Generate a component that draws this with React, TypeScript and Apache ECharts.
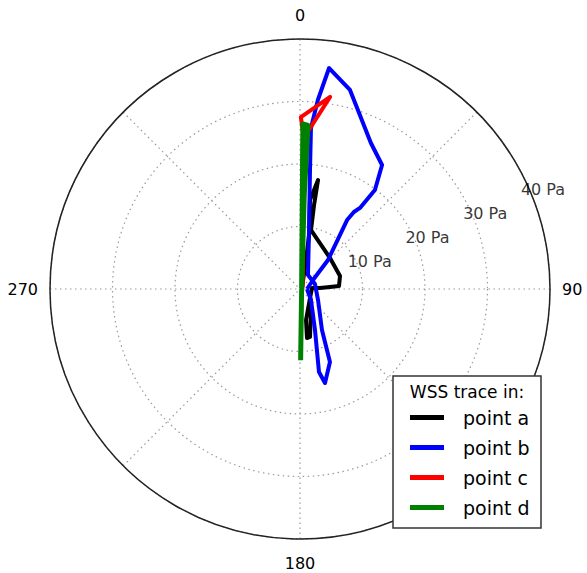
import React, { useEffect, useRef } from "react";
import * as echarts from "echarts";

// [radius (Pa), angle (deg, clockwise from top)]
const pointA: number[][] = [
  [0.3, 90], [4.74, 11.7], [8.76, 9.5], [14.33, 6.4], [17.68, 9.4], [13.6, 9.5], [9.6, 10.6],
  [6.9, 44.1], [6.73, 72], [6.26, 85.6], [4.81, 86.2], [3.2, 87.1], [1.93, 85.2],
  [2.15, 132], [5.05, 169], [7.92, 171.9], [7.84, 168.2], [3.79, 152.4], [1.67, 106.7],
];
const pointB: number[][] = [
  [1.12, 90], [2.53, 55.3], [6.45, 44.0], [13.36, 34.3], [15.04, 35.0], [16.13, 36.5],
  [19.87, 37.1], [23.79, 33.5], [25.97, 25.9], [32.83, 14.1], [35.66, 7.5], [30.38, 5.4],
  [25.82, 3.9], [19.1, 4.8], [9.55, 8.7], [2.58, 29.7], [2.53, 71.6], [3.38, 121.4],
  [7.44, 151.8], [12.63, 157.7], [15.56, 165.1], [13.62, 167.1], [6.98, 159.9],
  [2.49, 135], [1.12, 90],
];
const pointC: number[][] = [
  [0.5, 60], [12, 1.5], [25, 1.1], [27.5, 0.3], [31.1, 8.9], [25.8, 3.6], [24.6, 1.9],
  [12, 2.0], [0.5, 60],
];
const pointD: number[][] = [
  [11.4, 179.5], [0.3, 120], [26.4, 1.0], [26.2, 2.8], [15, 2.6], [0.3, 60],
];

const seriesNames = ["point a", "point b", "point c", "point d"];
const seriesColors = ["#000000", "#0000ff", "#ff0000", "#008000"];
const radiusTicks = [10, 20, 30, 40];
const angleLabels = [0, 90, 180, 270];
const legendTitle = "WSS trace in:";
const radiusLabelAngle = 67.5;

export default function App() {
  const ref = useRef<HTMLDivElement>(null);
  useEffect(() => {
    document.body.style.margin = "0";
    if (!ref.current) return;
    const chart = echarts.init(ref.current, undefined, { renderer: "svg" });
    const font = "DejaVu Sans";
    const data = [pointA, pointB, pointC, pointD];
    const widths = [4, 4, 4, 5];
    chart.setOption({
      animation: false,
      backgroundColor: "#ffffff",
      textStyle: { fontFamily: font },
      polar: { center: [300, 289], radius: 250 },
      angleAxis: {
        type: "value",
        min: 0,
        max: 360,
        interval: 45,
        startAngle: 90,
        clockwise: true,
        axisLine: { show: true, lineStyle: { color: "#222", width: 1.5 } },
        axisTick: { show: false },
        axisLabel: {
          show: true,
          margin: 12,
          fontSize: 16,
          lineHeight: 24,
          color: "#000",
          fontFamily: font,
          formatter: (v: number) => (angleLabels.indexOf(v) >= 0 ? String(v) : ""),
        },
        splitLine: { show: true, lineStyle: { color: "#9a9a9a", type: [1.5, 3.5], width: 1.2 } },
      },
      radiusAxis: {
        type: "value",
        min: 0,
        max: 40,
        interval: 10,
        axisLine: { show: false },
        axisTick: { show: false },
        axisLabel: { show: false },
        splitLine: { show: true, lineStyle: { color: "#9a9a9a", type: [1.5, 3.5], width: 1.2 } },
      },
      legend: {
        data: seriesNames,
        orient: "vertical",
        left: 405,
        top: 403,
        itemWidth: 34,
        itemHeight: 5,
        itemGap: 11,
        icon: "rect",
        z: 20,
        textStyle: { fontSize: 19, color: "#000", fontFamily: font, padding: [0, 0, 0, 14] },
        selectedMode: false,
      },
      graphic: [
        {
          type: "rect",
          z: 15,
          shape: { x: 393, y: 376, width: 148, height: 152 },
          style: { fill: "#ffffff", stroke: "#333", lineWidth: 1.5 },
        },
        {
          type: "text",
          z: 16,
          x: 467,
          y: 392,
          style: {
            text: legendTitle,
            fontSize: 17,
            fontFamily: font,
            fill: "#000",
            textAlign: "center",
            textVerticalAlign: "middle",
          },
        },
      ],
      series: [
        ...data.map((d, i) => ({
          name: seriesNames[i],
          type: "line",
          coordinateSystem: "polar",
          data: d,
          showSymbol: false,
          symbol: "none",
          color: seriesColors[i],
          lineStyle: { color: seriesColors[i], width: widths[i], join: "round" },
          z: 3 + i,
        })),
        {
          name: "rlabels",
          type: "scatter",
          coordinateSystem: "polar",
          data: radiusTicks.map((r) => [r, radiusLabelAngle]),
          symbolSize: 0,
          silent: true,
          z: 10,
          label: {
            show: true,
            position: "inside",
            offset: [12, -4],
            fontSize: 16,
            color: "#000",
            fontFamily: font,
            formatter: (p: any) => p.value[0] + " Pa",
          },
        },
      ],
    });
    return () => chart.dispose();
  }, []);
  return <div ref={ref} style={{ width: 587, height: 573 }} />;
}
